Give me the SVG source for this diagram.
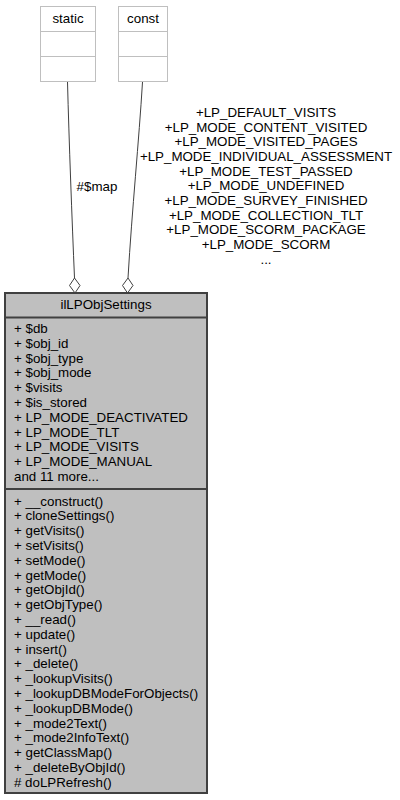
<svg xmlns="http://www.w3.org/2000/svg" width="400" height="800" viewBox="0 0 400 800">
<style>
text{font-family:"Liberation Sans",Arial,sans-serif;font-size:13.33px;fill:#000}
.c{text-anchor:middle}
.small{fill:#fff;stroke:#bfbfbf;stroke-width:1}
.main{fill:#bfbfbf;stroke:#404040;stroke-width:2}
.div{stroke:#404040;stroke-width:2}
.sdiv{stroke:#bfbfbf;stroke-width:1}
.edge{fill:none;stroke:#404040;stroke-width:1}
.dia{fill:#fff;stroke:#404040;stroke-width:1}
</style>
<rect width="400" height="800" fill="#fff"/>
<g id="connectors">
<path class="edge" d="M67.5,82 C69,140 72,220 74.5,278"/>
<polygon class="dia" points="74.5,278 80,285.5 75,293 69.5,285.5"/>
<text x="97" y="191" class="c">#$map</text>
<path class="edge" d="M142.5,82 C139,140 132,210 128,278"/>
<polygon class="dia" points="128,278 133,285.5 127.5,293 122.5,285.5"/>
<g class="c">
<text x="266" y="117">+LP_DEFAULT_VISITS</text>
<text x="266" y="131.7">+LP_MODE_CONTENT_VISITED</text>
<text x="266" y="146.3">+LP_MODE_VISITED_PAGES</text>
<text x="266" y="161">+LP_MODE_INDIVIDUAL_ASSESSMENT</text>
<text x="266" y="175.7">+LP_MODE_TEST_PASSED</text>
<text x="266" y="190.3">+LP_MODE_UNDEFINED</text>
<text x="266" y="205">+LP_MODE_SURVEY_FINISHED</text>
<text x="266" y="219.7">+LP_MODE_COLLECTION_TLT</text>
<text x="266" y="234.3">+LP_MODE_SCORM_PACKAGE</text>
<text x="266" y="249">+LP_MODE_SCORM</text>
<text x="266" y="263.7">...</text>
</g>
</g>
<g id="static">
<rect class="small" x="40.5" y="6.5" width="55" height="75"/>
<line class="sdiv" x1="40.5" y1="31.5" x2="95.5" y2="31.5"/>
<line class="sdiv" x1="40.5" y1="56.5" x2="95.5" y2="56.5"/>
<text x="68" y="23" class="c">static</text>
</g>
<g id="const">
<rect class="small" x="118.5" y="6.5" width="49" height="75"/>
<line class="sdiv" x1="118.5" y1="31.5" x2="167.5" y2="31.5"/>
<line class="sdiv" x1="118.5" y1="56.5" x2="167.5" y2="56.5"/>
<text x="143" y="23" class="c">const</text>
</g>
<g id="ilLPObjSettings">
<rect class="main" x="5" y="293" width="202" height="500"/>
<line class="div" x1="5" y1="317.5" x2="207" y2="317.5"/>
<line class="div" x1="5" y1="489" x2="207" y2="489"/>
<text x="106" y="309" class="c">ilLPObjSettings</text>
<g>
<text x="14" y="333">+ $db</text>
<text x="14" y="347.8">+ $obj_id</text>
<text x="14" y="362.6">+ $obj_type</text>
<text x="14" y="377.4">+ $obj_mode</text>
<text x="14" y="392.2">+ $visits</text>
<text x="14" y="407">+ $is_stored</text>
<text x="14" y="421.8">+ LP_MODE_DEACTIVATED</text>
<text x="14" y="436.6">+ LP_MODE_TLT</text>
<text x="14" y="451.4">+ LP_MODE_VISITS</text>
<text x="14" y="466.2">+ LP_MODE_MANUAL</text>
<text x="14" y="481">and 11 more...</text>
</g>
<g>
<text x="14" y="505.5">+ __construct()</text>
<text x="14" y="520.3">+ cloneSettings()</text>
<text x="14" y="535.1">+ getVisits()</text>
<text x="14" y="549.9">+ setVisits()</text>
<text x="14" y="564.7">+ setMode()</text>
<text x="14" y="579.5">+ getMode()</text>
<text x="14" y="594.3">+ getObjId()</text>
<text x="14" y="609.1">+ getObjType()</text>
<text x="14" y="623.9">+ __read()</text>
<text x="14" y="638.7">+ update()</text>
<text x="14" y="653.5">+ insert()</text>
<text x="14" y="668.3">+ _delete()</text>
<text x="14" y="683.1">+ _lookupVisits()</text>
<text x="14" y="697.9">+ _lookupDBModeForObjects()</text>
<text x="14" y="712.7">+ _lookupDBMode()</text>
<text x="14" y="727.5">+ _mode2Text()</text>
<text x="14" y="742.3">+ _mode2InfoText()</text>
<text x="14" y="757.1">+ getClassMap()</text>
<text x="14" y="771.9">+ _deleteByObjId()</text>
<text x="14" y="786.7"># doLPRefresh()</text>
</g>
</g>
</svg>
